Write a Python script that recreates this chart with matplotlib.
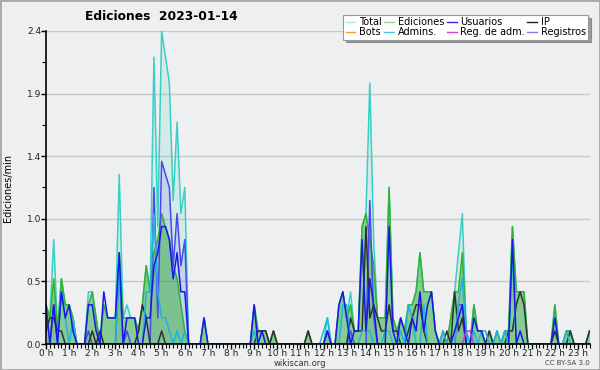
import numpy as np
import matplotlib
matplotlib.use("Agg")
import matplotlib.pyplot as plt
from matplotlib.patches import Rectangle

# one value every 10 minutes, 00:00 .. 23:30 (edits per minute)
total = [0.3, 0.2, 0.8, 0.1, 0.5, 0.3,  0.3, 0.2, 0.0, 0.0, 0.0, 0.4,
         0.4, 0.2, 0.0, 0.3, 0.2, 0.2,  0.2, 1.3, 0.2, 0.3, 0.2, 0.2,
         0.1, 0.3, 0.6, 0.4, 2.2, 0.9,  2.4, 2.2, 2.0, 1.1, 1.7, 1.0,
         1.2, 0.0, 0.0, 0.0, 0.0, 0.2,  0.0, 0.0, 0.0, 0.0, 0.0, 0.0,
         0.0, 0.0, 0.0, 0.0, 0.0, 0.0,  0.3, 0.1, 0.1, 0.1, 0.0, 0.1,
         0.0, 0.0, 0.0, 0.0, 0.0, 0.0,  0.0, 0.0, 0.1, 0.0, 0.0, 0.0,
         0.0, 0.2, 0.0, 0.0, 0.3, 0.4,  0.2, 0.4, 0.1, 0.1, 0.9, 1.0,
         2.0, 0.8, 0.2, 0.2, 0.2, 1.2,  0.2, 0.1, 0.2, 0.1, 0.3, 0.3,
         0.4, 0.7, 0.4, 0.4, 0.4, 0.1,  0.0, 0.1, 0.0, 0.2, 0.4, 0.7,
         1.0, 0.1, 0.0, 0.3, 0.1, 0.1,  0.0, 0.1, 0.0, 0.1, 0.0, 0.1,
         0.1, 0.9, 0.4, 0.4, 0.4, 0.0,  0.0, 0.0, 0.0, 0.0, 0.0, 0.0,
         0.3, 0.0, 0.0, 0.1, 0.1, 0.0,  0.0, 0.0, 0.0, 0.1]
ediciones = [0.3, 0.2, 0.5, 0.1, 0.5, 0.3,  0.3, 0.2, 0.0, 0.0, 0.0, 0.3,
             0.4, 0.2, 0.0, 0.3, 0.2, 0.2,  0.2, 0.7, 0.2, 0.2, 0.2, 0.2,
             0.1, 0.3, 0.6, 0.4, 0.7, 0.8,  1.0, 0.9, 0.8, 0.6, 0.5, 0.3,
             0.1, 0.0, 0.0, 0.0, 0.0, 0.2,  0.0, 0.0, 0.0, 0.0, 0.0, 0.0,
             0.0, 0.0, 0.0, 0.0, 0.0, 0.0,  0.3, 0.1, 0.1, 0.1, 0.0, 0.1,
             0.0, 0.0, 0.0, 0.0, 0.0, 0.0,  0.0, 0.0, 0.1, 0.0, 0.0, 0.0,
             0.0, 0.1, 0.0, 0.0, 0.3, 0.4,  0.2, 0.3, 0.1, 0.1, 0.9, 1.0,
             0.8, 0.6, 0.2, 0.2, 0.2, 1.2,  0.2, 0.1, 0.2, 0.1, 0.3, 0.3,
             0.4, 0.7, 0.4, 0.4, 0.4, 0.1,  0.0, 0.1, 0.0, 0.2, 0.4, 0.4,
             0.7, 0.1, 0.0, 0.3, 0.1, 0.1,  0.0, 0.1, 0.0, 0.1, 0.0, 0.1,
             0.1, 0.9, 0.4, 0.4, 0.4, 0.0,  0.0, 0.0, 0.0, 0.0, 0.0, 0.0,
             0.3, 0.0, 0.0, 0.1, 0.1, 0.0,  0.0, 0.0, 0.0, 0.1]
usuarios = [0.3, 0.0, 0.3, 0.0, 0.4, 0.2,  0.3, 0.1, 0.0, 0.0, 0.0, 0.3,
            0.3, 0.1, 0.0, 0.4, 0.2, 0.2,  0.2, 0.7, 0.0, 0.2, 0.2, 0.2,
            0.0, 0.0, 0.2, 0.2, 0.6, 0.7,  0.9, 0.9, 0.8, 0.5, 0.7, 0.4,
            0.4, 0.0, 0.0, 0.0, 0.0, 0.2,  0.0, 0.0, 0.0, 0.0, 0.0, 0.0,
            0.0, 0.0, 0.0, 0.0, 0.0, 0.0,  0.3, 0.0, 0.1, 0.0, 0.0, 0.0,
            0.0, 0.0, 0.0, 0.0, 0.0, 0.0,  0.0, 0.0, 0.0, 0.0, 0.0, 0.0,
            0.0, 0.1, 0.0, 0.0, 0.3, 0.4,  0.2, 0.0, 0.1, 0.1, 0.8, 0.1,
            0.5, 0.3, 0.0, 0.0, 0.0, 0.9,  0.1, 0.0, 0.2, 0.1, 0.0, 0.2,
            0.1, 0.4, 0.1, 0.3, 0.4, 0.1,  0.0, 0.0, 0.0, 0.0, 0.1, 0.2,
            0.3, 0.0, 0.0, 0.2, 0.1, 0.1,  0.0, 0.0, 0.0, 0.0, 0.0, 0.0,
            0.0, 0.8, 0.0, 0.1, 0.0, 0.0,  0.0, 0.0, 0.0, 0.0, 0.0, 0.0,
            0.2, 0.0, 0.0, 0.0, 0.0, 0.0,  0.0, 0.0, 0.0, 0.0]
ip = [0.1, 0.2, 0.2, 0.1, 0.1, 0.0,  0.0, 0.0, 0.0, 0.0, 0.0, 0.0,
      0.1, 0.0, 0.1, 0.0, 0.0, 0.0,  0.0, 0.0, 0.0, 0.0, 0.0, 0.0,
      0.1, 0.3, 0.2, 0.0, 0.0, 0.0,  0.1, 0.0, 0.0, 0.0, 0.0, 0.0,
      0.0, 0.0, 0.0, 0.0, 0.0, 0.0,  0.0, 0.0, 0.0, 0.0, 0.0, 0.0,
      0.0, 0.0, 0.0, 0.0, 0.0, 0.0,  0.0, 0.1, 0.1, 0.1, 0.0, 0.1,
      0.0, 0.0, 0.0, 0.0, 0.0, 0.0,  0.0, 0.0, 0.1, 0.0, 0.0, 0.0,
      0.0, 0.0, 0.0, 0.0, 0.0, 0.0,  0.0, 0.2, 0.1, 0.1, 0.1, 0.9,
      0.2, 0.3, 0.2, 0.1, 0.1, 0.3,  0.1, 0.1, 0.0, 0.0, 0.1, 0.2,
      0.3, 0.3, 0.1, 0.0, 0.0, 0.0,  0.0, 0.0, 0.1, 0.0, 0.4, 0.1,
      0.2, 0.0, 0.0, 0.0, 0.0, 0.0,  0.0, 0.1, 0.0, 0.0, 0.0, 0.0,
      0.1, 0.1, 0.3, 0.4, 0.3, 0.0,  0.0, 0.0, 0.0, 0.0, 0.0, 0.0,
      0.1, 0.0, 0.0, 0.0, 0.1, 0.0,  0.0, 0.0, 0.0, 0.1]
bots = [0.0] * 142
admins = [0.0, 0.0, 0.0, 0.0, 0.4, 0.2,  0.0, 0.2, 0.0, 0.0, 0.0, 0.0,
          0.0, 0.0, 0.0, 0.0, 0.0, 0.0,  0.0, 0.6, 0.0, 0.0, 0.0, 0.0,
          0.0, 0.0, 0.4, 0.4, 1.0, 0.4,  0.2, 0.2, 0.1, 0.0, 0.1, 0.0,
          0.1, 0.0, 0.0, 0.0, 0.0, 0.0,  0.0, 0.0, 0.0, 0.0, 0.0, 0.0,
          0.0, 0.0, 0.0, 0.0, 0.0, 0.0,  0.1, 0.0, 0.0, 0.0, 0.0, 0.0,
          0.0, 0.0, 0.0, 0.0, 0.0, 0.0,  0.0, 0.0, 0.0, 0.0, 0.0, 0.0,
          0.1, 0.2, 0.0, 0.0, 0.0, 0.3,  0.3, 0.0, 0.0, 0.0, 0.1, 0.1,
          0.1, 0.0, 0.0, 0.0, 0.1, 0.1,  0.0, 0.0, 0.1, 0.0, 0.3, 0.2,
          0.0, 0.0, 0.3, 0.0, 0.0, 0.0,  0.0, 0.1, 0.0, 0.0, 0.0, 0.3,
          0.5, 0.1, 0.0, 0.1, 0.0, 0.1,  0.1, 0.0, 0.0, 0.1, 0.0, 0.1,
          0.0, 0.7, 0.0, 0.0, 0.0, 0.0,  0.0, 0.0, 0.0, 0.0, 0.0, 0.0,
          0.0, 0.0, 0.0, 0.1, 0.0, 0.0,  0.0, 0.0, 0.0, 0.0]
reg_adm = [0.0] * 109 + [0.1, 0.1] + [0.0] * 31
registros = [0.0, 0.0, 0.3, 0.0, 0.0, 0.0,  0.0, 0.0, 0.0, 0.0, 0.0, 0.1,
             0.0, 0.0, 0.0, 0.0, 0.0, 0.0,  0.0, 0.6, 0.0, 0.1, 0.0, 0.0,
             0.0, 0.0, 0.0, 0.0, 1.2, 0.2,  1.4, 1.3, 1.2, 0.6, 1.0, 0.6,
             0.8, 0.0, 0.0, 0.0, 0.0, 0.0,  0.0, 0.0, 0.0, 0.0, 0.0, 0.0,
             0.0, 0.0, 0.0, 0.0, 0.0, 0.0,  0.0, 0.0, 0.0, 0.0, 0.0, 0.0,
             0.0, 0.0, 0.0, 0.0, 0.0, 0.0,  0.0, 0.0, 0.0, 0.0, 0.0, 0.0,
             0.0, 0.1, 0.0, 0.0, 0.0, 0.0,  0.0, 0.1, 0.0, 0.0, 0.0, 0.0,
             1.1, 0.2, 0.0, 0.0, 0.0, 0.0,  0.0, 0.0, 0.0, 0.0, 0.0, 0.0,
             0.0, 0.0, 0.0, 0.0, 0.0, 0.0,  0.0, 0.0, 0.0, 0.0, 0.0, 0.3,
             0.3, 0.0, 0.0, 0.0, 0.0, 0.0,  0.0, 0.0, 0.0, 0.0, 0.0, 0.0,
             0.0, 0.0, 0.0, 0.0, 0.0, 0.0,  0.0, 0.0, 0.0, 0.0, 0.0, 0.0,
             0.0, 0.0, 0.0, 0.0, 0.0, 0.0,  0.0, 0.0, 0.0, 0.0]

hours = np.arange(len(total)) / 6.0
bg = "#eeeff1"

fig = plt.figure(figsize=(6, 3.7), dpi=100, facecolor=bg)
ax = fig.add_axes([46 / 600, 26 / 370, 544 / 600, 313 / 370])
ax.set_facecolor(bg)
fig.patches.append(Rectangle((0, 0), 1, 1, transform=fig.transFigure, fill=False,
                             edgecolor="#a8a8a8", linewidth=2))

# fills first, lines on top
ax.fill_between(hours, total, color="#40d0c0", alpha=0.15, linewidth=0)
ax.fill_between(hours, registros, color="#6060f0", alpha=0.15, linewidth=0)
ax.fill_between(hours, ediciones, color="#3aae3a", alpha=0.5, linewidth=0)
ax.plot(hours, bots, color="#f0a030", lw=1)
ax.plot(hours, total, color="#38d0c4", lw=1.1)
ax.plot(hours, ediciones, color="#34b034", lw=1.1)
ax.plot(hours, registros, color="#4848f0", lw=1.1)
ax.plot(hours, ip, color="#303030", lw=1.1)
ax.plot(hours, admins, color="#20b4e0", lw=1.1)
ax.plot(hours, usuarios, color="#1818e8", lw=1.1)
ax.plot(hours, reg_adm, color="#c040e0", lw=1.1)

ax.set_xlim(0, hours[-1] + 0.02)
ax.set_ylim(0, 2.4)
yt = np.linspace(0, 2.4, 6)
ax.set_yticks(yt)
ax.set_yticklabels(["%.1f" % v for v in yt])
ax.set_yticks(yt[:-1] + 0.24, minor=True)
ax.set_xticks(np.arange(24))
ax.set_xticklabels(["%d h" % h for h in range(24)])
ax.set_xticks(np.arange(0, 23.55, 1 / 6), minor=True)
ax.grid(axis="y", color="#c8c8c8", linewidth=1)
ax.set_axisbelow(True)
for s in ["top", "right"]:
    ax.spines[s].set_visible(False)
for s in ["left", "bottom"]:
    ax.spines[s].set_color("black")
    ax.spines[s].set_linewidth(1.2)
ax.tick_params(axis="both", which="major", length=3.5, width=1, labelsize=6.5, pad=0,
               colors="black", labelcolor="#222222")
ax.tick_params(axis="both", which="minor", length=3, width=0.8)
ax.set_ylabel("Ediciones/min", fontsize=7)
ax.yaxis.set_label_coords(-0.06, 0.5)

fig.text(85 / 600, 1 - 17 / 370, "Ediciones  2023-01-14", fontsize=8.8,
         fontweight="bold", va="center", ha="left")
fig.text(300 / 600, 1 - 363.5 / 370, "wikiscan.org", fontsize=6, ha="center",
         va="center", color="#333333")
fig.text(590 / 600, 1 - 363 / 370, "CC BY-SA 3.0", fontsize=5, ha="right",
         va="center", color="#444444")

labels = ["Total", "Bots", "Ediciones", "Admins.", "Usuarios", "Reg. de adm.",
          "IP", "Registros"]
colors = ["#a8e8e0", "#f0a030", "#90d890", "#40c8e0", "#3030e0", "#d040e0",
          "#202020", "#8080f0"]
handles = [plt.Line2D([], [], color=c, lw=1) for c in colors]
leg = fig.legend(handles, labels, ncol=4, loc="upper right",
                 bbox_to_anchor=(593 / 600, 1 - 10 / 370), fontsize=7,
                 handlelength=1.0, handletextpad=0.35, columnspacing=0.3,
                 labelspacing=0.0, borderpad=0.25, fancybox=False, shadow=True,
                 framealpha=1, edgecolor="#999999")
leg.get_frame().set_linewidth(0.8)

fig.savefig("out.png", dpi=100, facecolor=bg)
